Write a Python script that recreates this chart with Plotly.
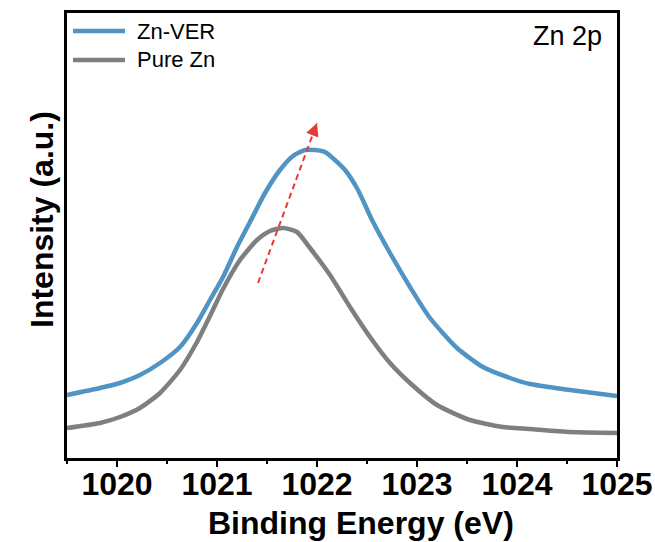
import plotly.graph_objects as go

# ---- data ----
energy_ver = [1019.50, 1019.83, 1020.03, 1020.23, 1020.43, 1020.63, 1020.80, 1020.93, 1021.06, 1021.20,
              1021.33, 1021.48, 1021.63, 1021.76, 1021.88, 1021.98, 1022.08, 1022.28, 1022.41, 1022.55,
              1022.73, 1022.93, 1023.13, 1023.40, 1023.66, 1023.93, 1024.13, 1024.53, 1025.00]
intensity_ver = [63, 70, 75, 83, 95, 111, 135, 158, 181, 211,
                 236, 265, 288, 302, 308, 308, 306, 288, 268, 238,
                 205, 171, 140, 110, 91, 80, 74, 68, 62]

energy_pure = [1019.50, 1019.83, 1020.03, 1020.23, 1020.43, 1020.63, 1020.80, 1020.93, 1021.06, 1021.23,
               1021.40, 1021.53, 1021.66, 1021.80, 1021.93, 1022.13, 1022.33, 1022.53, 1022.73, 1022.93,
               1023.20, 1023.53, 1023.86, 1024.13, 1024.53, 1025.00]
intensity_pure = [30, 35, 41, 50, 65, 88, 116, 142, 169, 198,
                  218, 227, 230, 226, 210, 183, 151, 121, 95, 75,
                  53, 38, 31, 29, 26, 25]

series_names = ["Zn-VER", "Pure Zn"]
series_colors = ["#5094c4", "#7f7f7f"]

arrow_x = [1021.41, 1022.00]   # shift arrow start / tip (eV)
arrow_y = [175, 335]           # intensity at start / tip

x_ticks = [1020, 1021, 1022, 1023, 1024, 1025]
x_range = [1019.5, 1025]
y_range = [0, 445]

W, H = 655, 542
ML, MR, MT, MB = 67, 38, 13, 84
PW, PH = W - ML - MR, H - MT - MB

fig = go.Figure()
fig.add_trace(go.Scatter(x=energy_pure, y=intensity_pure, mode="lines", name=series_names[1],
                         line=dict(color=series_colors[1], width=4.5, shape="spline", smoothing=0.6),
                         showlegend=False))
fig.add_trace(go.Scatter(x=energy_ver, y=intensity_ver, mode="lines", name=series_names[0],
                         line=dict(color=series_colors[0], width=4.5, shape="spline", smoothing=0.6),
                         showlegend=False))

# dashed red arrow
red = "#e83a35"
fig.add_shape(type="line", xref="x", yref="y", x0=arrow_x[0], y0=arrow_y[0], x1=arrow_x[1], y1=arrow_y[1],
              line=dict(color=red, width=2, dash="6px,4px"))
fig.add_annotation(x=arrow_x[1], y=arrow_y[1], xref="x", yref="y", ax=-5, ay=13, text="",
                   showarrow=True, arrowhead=2, arrowsize=1.3, arrowwidth=2, arrowcolor=red)

def px2paper(px, py):
    return (px - ML) / PW, (H - MB - py) / PH

# manual legend
for i, (name, col) in enumerate(zip(series_names, series_colors)):
    py = 31 + 29 * i
    x0, y0 = px2paper(73, py)
    x1, _ = px2paper(125, py)
    fig.add_shape(type="line", xref="paper", yref="paper", x0=x0, y0=y0, x1=x1, y1=y0,
                  line=dict(color=col, width=4.5))
    tx, _ = px2paper(135, py)
    fig.add_annotation(x=tx, y=y0, xref="paper", yref="paper", text=name, showarrow=False,
                       xanchor="left", yanchor="middle",
                       font=dict(family="Arial", size=22, color="black"))

lx, ly = px2paper(604, 36)
fig.add_annotation(x=lx, y=ly, xref="paper", yref="paper", text="Zn 2p", showarrow=False,
                   xanchor="right", yanchor="middle", font=dict(family="Arial", size=27, color="black"))

# axis titles
tx, ty = px2paper(361, 523)
fig.add_annotation(x=tx, y=ty, xref="paper", yref="paper", text="Binding Energy (eV)", showarrow=False,
                   xanchor="center", yanchor="middle",
                   font=dict(family="Arial", size=32, weight="bold", color="black"))
tx, ty = px2paper(42, 220)
fig.add_annotation(x=tx, y=ty, xref="paper", yref="paper", text="Intensity (a.u.)", showarrow=False,
                   textangle=-90, xanchor="center", yanchor="middle",
                   font=dict(family="Arial", size=32, weight="bold", color="black"))

fig.update_layout(
    width=W, height=H,
    margin=dict(l=ML, r=MR, t=MT, b=MB, autoexpand=False),
    paper_bgcolor="white", plot_bgcolor="white",
    font=dict(family="Arial", color="black"),
)
fig.update_xaxes(
    range=x_range, tickvals=x_ticks, ticktext=[str(t) for t in x_ticks],
    automargin=False, ticklabelstandoff=-10,
    showline=True, linecolor="black", linewidth=2.5, mirror=True,
    ticks="outside", ticklen=6, tickwidth=2, tickcolor="black",
    minor=dict(dtick=0.5, tick0=1019.5, ticks="outside", ticklen=3, tickwidth=2, tickcolor="black"),
    tickfont=dict(family="Arial", size=32, weight="bold", color="black"),
    showgrid=False, zeroline=False,
)
fig.update_yaxes(
    range=y_range, showticklabels=False, ticks="", automargin=False,
    showline=True, linecolor="black", linewidth=2.5, mirror=True,
    showgrid=False, zeroline=False,
)

fig.write_html("out.html")
